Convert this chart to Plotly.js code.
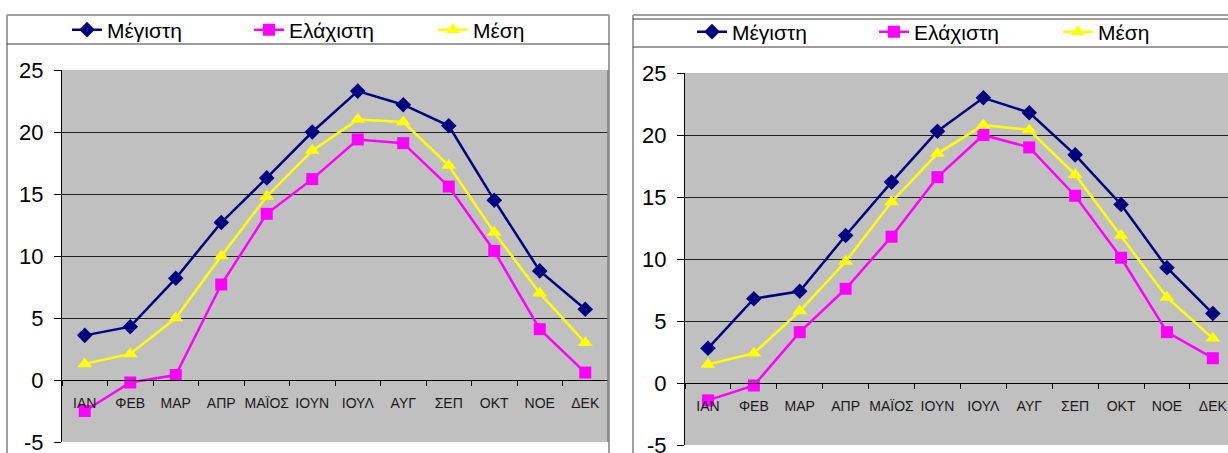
<!DOCTYPE html>
<html>
<head>
<meta charset="utf-8">
<script src="https://cdn.plot.ly/plotly-3.0.1.min.js"></script>
<style>
  html, body { margin: 0; padding: 0; background: #fff; overflow: hidden; width: 1228px; height: 453px; }
  #chart { width: 1228px; height: 453px; overflow: hidden; }
</style>
</head>
<body>
<div id="chart"></div>
<script>
// Monthly temperatures (°C) for two stations
const months = ['ΙΑΝ', 'ΦΕΒ', 'ΜΑΡ', 'ΑΠΡ', 'ΜΑΪΟΣ', 'ΙΟΥΝ', 'ΙΟΥΛ', 'ΑΥΓ', 'ΣΕΠ', 'ΟΚΤ', 'ΝΟΕ', 'ΔΕΚ'];
const seriesNames = ['Μέγιστη', 'Ελάχιστη', 'Μέση'];

// first station
const maxA  = [3.6, 4.3, 8.2, 12.7, 16.3, 20.0, 23.3, 22.2, 20.5, 14.5, 8.8, 5.7];
const minA  = [-2.5, -0.2, 0.4, 7.7, 13.4, 16.2, 19.4, 19.1, 15.6, 10.4, 4.1, 0.6];
const meanA = [1.3, 2.1, 5.0, 10.0, 14.8, 18.5, 21.0, 20.8, 17.3, 11.9, 7.0, 3.0];

// second station
const maxB  = [2.8, 6.8, 7.4, 11.9, 16.2, 20.3, 23.0, 21.8, 18.4, 14.4, 9.3, 5.6];
const minB  = [-1.4, -0.2, 4.1, 7.6, 11.8, 16.6, 20.0, 19.0, 15.1, 10.1, 4.1, 2.0];
const meanB = [1.5, 2.4, 5.8, 9.8, 14.6, 18.5, 20.8, 20.4, 16.8, 11.9, 6.9, 3.6];

const yTicks = [-5, 0, 5, 10, 15, 20, 25];
const yTickText = ['-5', '0', '5', '10', '15', '20', '25'];

// ---- geometry helpers (pixel -> paper fraction) ----
const W = 1228, H = 453;
const px = x => x / W;
const py = y => (H - y) / H;
const FONT = 'Liberation Sans, Arial, sans-serif';

const styles = [
  { color: '#000080', symbol: 'diamond',     size: 12, width: 2.5, legendwidth: 137 },
  { color: '#FF00FF', symbol: 'square',      size: 12, width: 2.5, legendwidth: 139 },
  { color: '#FFFF00', symbol: 'triangle-up', size: 13, width: 2.5, legendwidth: 60 }
];

function makeTraces(values, xa, ya, legendId) {
  return values.map((v, i) => ({
    type: 'scatter',
    mode: 'lines+markers',
    name: seriesNames[i],
    x: months,
    y: v,
    xaxis: xa,
    yaxis: ya,
    legend: legendId,
    legendwidth: styles[i].legendwidth,
    line: { color: styles[i].color, width: styles[i].width },
    marker: { color: styles[i].color, symbol: styles[i].symbol, size: styles[i].size,
              line: { width: 0 } },
    hoverinfo: 'x+y+name'
  }));
}

const traces = [
  ...makeTraces([maxA, minA, meanA], 'x', 'y', 'legend'),
  ...makeTraces([maxB, minB, meanB], 'x2', 'y2', 'legend2')
];

// y domains of the two plot areas and where value 0 falls in them
const yDomA = [py(442), py(70)];
const yDomB = [py(445), py(73)];
const zeroPos = d => d[0] + (0 - (-5)) / 30 * (d[1] - d[0]);

function xAxis(domain, range, yDom) {
  return {
    type: 'category',
    categoryorder: 'array',
    categoryarray: months,
    domain: domain,
    range: range,
    anchor: 'free',
    position: zeroPos(yDom),
    showline: true, linecolor: '#000', linewidth: 1,
    ticks: 'outside', tickson: 'boundaries', ticklen: 5, tickcolor: '#000', tickwidth: 1,
    showgrid: false, zeroline: false,
    tickangle: 0,
    tickfont: { family: FONT, size: 14, color: '#1a1a1a' },
    ticklabelstandoff: 10,
    fixedrange: true
  };
}

function yAxis(domain, anchor) {
  return {
    domain: domain,
    anchor: anchor,
    range: [-5, 25],
    tickmode: 'array',
    tickvals: yTicks,
    ticktext: yTickText,
    showline: true, linecolor: '#000', linewidth: 1,
    ticks: 'outside', ticklen: 7, tickcolor: '#000', tickwidth: 1,
    showgrid: true, gridcolor: '#1e1e1e', gridwidth: 1,
    zeroline: false,
    tickfont: { family: FONT, size: 22, color: '#000' },
    ticklabelstandoff: 6,
    ticklabeloverflow: 'allow',
    fixedrange: true
  };
}

function legendAt(xLeft, yMid) {
  return {
    orientation: 'h',
    x: px(xLeft), xanchor: 'left',
    y: py(yMid), yanchor: 'middle',
    bgcolor: 'rgba(0,0,0,0)', borderwidth: 0,
    font: { family: FONT, size: 21, color: '#000' },
    itemclick: false, itemdoubleclick: false
  };
}

function seg(x0, y0, x1, y1, color, width) {
  return { type: 'line', xref: 'paper', yref: 'paper',
           x0: px(x0), x1: px(x1), y0: py(y0), y1: py(y1),
           line: { color: color, width: width }, layer: 'above' };
}

const layout = {
  width: W, height: H,
  autosize: false,
  margin: { l: 0, r: 0, t: 0, b: 0, pad: 0 },
  paper_bgcolor: '#ffffff',
  plot_bgcolor: '#C0C0C0',
  font: { family: FONT, color: '#000' },
  showlegend: true,
  xaxis:  xAxis([px(62), px(608)], [-0.5, 11.5], yDomA),
  yaxis:  yAxis(yDomA, 'x'),
  xaxis2: xAxis([px(685), 1], [-0.5, 11.33], yDomB),
  yaxis2: yAxis(yDomB, 'x2'),
  legend:  legendAt(67, 30),
  legend2: legendAt(692, 32),
  shapes: [
    // frame of the first chart
    seg(7, 15, 609, 15, '#a0a0a0', 2),
    seg(7, 15, 7, 453, '#a0a0a0', 2),
    seg(609, 15, 609, 453, '#a0a0a0', 2),
    // frame of the second chart (runs off the right edge)
    seg(633, 15, 1228, 15, '#a0a0a0', 2),
    seg(633, 15, 633, 453, '#a0a0a0', 2),
    // legend boxes
    seg(7, 44, 609, 44, '#3a3a3a', 1),
    seg(633, 19, 1228, 19, '#3a3a3a', 1),
    seg(633, 47, 1228, 47, '#3a3a3a', 1),
    // right edge of the first plot area
    seg(608, 70, 608, 442, '#808080', 1.5)
  ]
};

Plotly.newPlot('chart', traces, layout, { displayModeBar: false, staticPlot: true });
</script>
</body>
</html>
